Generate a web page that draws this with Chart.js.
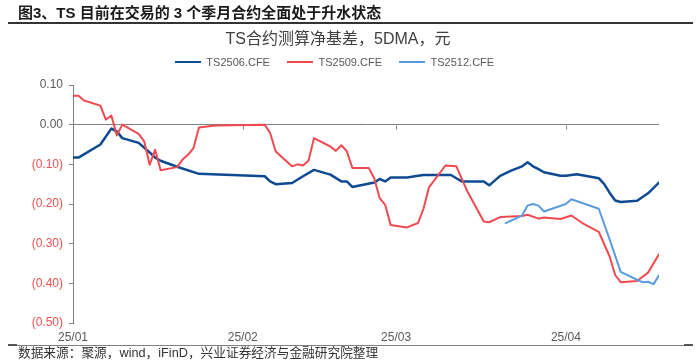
<!DOCTYPE html>
<html>
<head>
<meta charset="utf-8">
<script src="https://cdn.jsdelivr.net/npm/chart.js@4.4.1/dist/chart.umd.min.js"></script>
<style>
  body{margin:0;background:#fff;}
  #page{position:relative;width:700px;height:363px;overflow:hidden;background:#fff;
        font-family:"Liberation Sans","Noto Sans CJK SC",sans-serif;}
  #basisChart{position:absolute;left:0;top:0;}
  .fig-title{position:absolute;left:18px;top:4px;font-size:15px;line-height:17px;font-weight:bold;color:#1a1a1a;white-space:nowrap;}
  .rule-top{position:absolute;left:8px;top:22px;width:685px;height:2px;background:#333;}
  .chart-title{position:absolute;left:0;width:676px;top:29px;line-height:20px;font-size:16px;color:#404040;text-align:center;white-space:nowrap;}
  #legend{position:absolute;left:0;width:669px;top:55px;height:14px;display:flex;justify-content:center;gap:17px;font-size:11px;color:#595959;}
  .legend-item{display:flex;align-items:center;white-space:nowrap;}
  .legend-line{width:26px;height:2px;margin-right:5.5px;}
  .rule-bottom{position:absolute;left:8px;top:345px;width:685px;height:1px;background:#808080;}
  .rule-end{position:absolute;top:344px;width:9px;height:2px;background:#555;}
  .source{position:absolute;left:18px;top:346px;font-size:12.7px;line-height:15px;color:#333;white-space:nowrap;}
</style>
</head>
<body>
<div id="page">
  <canvas id="basisChart" width="700" height="363"></canvas>
  <div class="fig-title">图3、TS 目前在交易的 3 个季月合约全面处于升水状态</div>
  <div class="rule-top"></div>
  <div class="chart-title">TS合约测算净基差，5DMA，元</div>
  <div id="legend"></div>
  <div class="rule-bottom"></div>
  <div class="rule-end" style="left:8px"></div>
  <div class="rule-end" style="left:684px"></div>
  <div class="source">数据来源：聚源，wind，iFinD，兴业证券经济与金融研究院整理</div>
</div>
<script>
// colours
const colorTS2506 = "#0E4A91";
const colorTS2509 = "#EF4A50";
const colorTS2512 = "#5B9BE0";
const axisGray = "#808080";
const labelGray = "#595959";
const labelRed = "#EE5050";

// x values are calendar days counted from 2025-01-01
const monthStarts = [0, 31, 59, 90];
const monthLabels = ["25/01", "25/02", "25/03", "25/04"];
const xMax = 107;
const yMin = -0.5;
const yMax = 0.1;
const yStep = 0.1;

// TS2506.CFE
const ts2506Days = [0, 1, 5, 7, 8, 9, 12, 14, 15, 16, 19, 23, 35, 36, 37, 40, 42, 44, 47, 49, 50, 51, 55, 56, 57, 58,
    61, 63, 64, 69, 70, 71, 75, 76, 78, 80, 82, 83, 84, 85, 86, 89, 90, 92, 96, 97, 98, 99, 100, 103, 105, 107];
const ts2506Basis = [-0.083, -0.083, -0.050, -0.010, -0.017, -0.034, -0.046, -0.070, -0.083, -0.091, -0.106, -0.124,
    -0.130, -0.143, -0.150, -0.147, -0.130, -0.114, -0.126, -0.143, -0.143, -0.157, -0.146, -0.137, -0.143, -0.133,
    -0.133, -0.129, -0.127, -0.127, -0.135, -0.143, -0.143, -0.153, -0.129, -0.116, -0.105, -0.095, -0.105, -0.112,
    -0.120, -0.129, -0.129, -0.125, -0.135, -0.150, -0.172, -0.191, -0.195, -0.192, -0.173, -0.146];

// TS2509.CFE
const ts2509Days = [0, 1, 2, 5, 6, 7, 8, 9, 12, 13, 14, 15, 16, 19, 20, 21, 22, 23, 26, 35, 36, 37, 38, 40, 41, 42, 43,
    44, 47, 48, 49, 50, 51, 54, 55, 56, 57, 58, 61, 63, 64, 65, 68, 70, 72, 75, 76, 78, 82, 83, 85, 86, 89, 91, 93, 96,
    98, 99, 100, 103, 105, 107];
const ts2509Basis = [0.073, 0.073, 0.061, 0.048, 0.013, 0.023, -0.027, 0.000, -0.023, -0.042, -0.101, -0.063, -0.115,
    -0.107, -0.088, -0.076, -0.059, -0.007, -0.002, 0.000, -0.021, -0.067, -0.080, -0.105, -0.100, -0.103, -0.091,
    -0.034, -0.055, -0.066, -0.052, -0.067, -0.109, -0.109, -0.135, -0.185, -0.202, -0.253, -0.259, -0.248, -0.212,
    -0.158, -0.103, -0.105, -0.168, -0.244, -0.246, -0.233, -0.230, -0.227, -0.237, -0.234, -0.238, -0.229, -0.248,
    -0.270, -0.333, -0.379, -0.397, -0.394, -0.373, -0.327];

// TS2512.CFE
const ts2512Days = [79, 82, 83, 84, 85, 86, 90, 91, 96, 98, 100, 103, 104, 105, 106, 107];
const ts2512Basis = [-0.248, -0.229, -0.204, -0.200, -0.204, -0.219, -0.200, -0.188, -0.212, -0.290, -0.371, -0.391,
    -0.397, -0.396, -0.402, -0.380];

function toPoints(days, values) {
    return days.map(function (d, i) { return {x: d, y: values[i]}; });
}

function formatBasis(v) {
    if (v < -1e-9) return "(" + Math.abs(v).toFixed(2) + ")";
    return Math.abs(v).toFixed(2);
}

// small downward ticks on the zero line at each month start
const zeroLineTicks = {
    id: "zeroLineTicks",
    beforeDatasetsDraw: function (chart) {
        var ctx = chart.ctx;
        var xScale = chart.scales.x;
        var y0 = Math.round(chart.scales.y.getPixelForValue(0)) + 0.5;
        ctx.save();
        ctx.strokeStyle = axisGray;
        ctx.lineWidth = 1;
        monthStarts.forEach(function (d) {
            if (d === 0) return;
            var px = Math.round(xScale.getPixelForValue(d)) + 0.5;
            ctx.beginPath();
            ctx.moveTo(px, y0);
            ctx.lineTo(px, y0 + 4);
            ctx.stroke();
        });
        ctx.restore();
    }
};

var basisChart = new Chart(document.getElementById("basisChart"), {
    type: "line",
    data: {
        datasets: [{
            label: "TS2506.CFE",
            data: toPoints(ts2506Days, ts2506Basis),
            borderColor: colorTS2506,
            borderWidth: 2.5,
            order: 3
        }, {
            label: "TS2509.CFE",
            data: toPoints(ts2509Days, ts2509Basis),
            borderColor: colorTS2509,
            borderWidth: 2,
            order: 2
        }, {
            label: "TS2512.CFE",
            data: toPoints(ts2512Days, ts2512Basis),
            borderColor: colorTS2512,
            borderWidth: 2,
            order: 1
        }]
    },
    options: {
        responsive: false,
        animation: false,
        devicePixelRatio: 1,
        layout: {padding: {top: 85, right: 41, bottom: 18, left: 0}},
        elements: {
            point: {radius: 0},
            line: {tension: 0, borderCapStyle: "round", borderJoinStyle: "round"}
        },
        plugins: {
            legend: {display: false},
            title: {display: false},
            tooltip: {enabled: false}
        },
        scales: {
            x: {
                type: "linear",
                min: 0,
                max: xMax,
                afterBuildTicks: function (scale) {
                    scale.ticks = monthStarts.map(function (v) { return {value: v}; });
                },
                afterFit: function (scale) { scale.height = 22; },
                grid: {display: false, drawTicks: false},
                border: {display: false},
                ticks: {
                    autoSkip: false,
                    maxRotation: 0,
                    padding: 7,
                    color: labelGray,
                    font: {family: "Liberation Sans", size: 12},
                    callback: function (v) { return monthLabels[monthStarts.indexOf(v)]; }
                }
            },
            y: {
                min: yMin,
                max: yMax,
                afterFit: function (scale) { scale.width = 73; },
                border: {display: true, color: axisGray, width: 1},
                grid: {
                    drawTicks: true,
                    tickLength: 4,
                    tickColor: axisGray,
                    lineWidth: 1,
                    color: function (c) {
                        return Math.abs(c.tick.value) < 1e-9 ? axisGray : "rgba(0,0,0,0)";
                    }
                },
                ticks: {
                    stepSize: yStep,
                    padding: 6,
                    font: {family: "Liberation Sans", size: 12},
                    color: function (c) { return c.tick.value < -1e-9 ? labelRed : labelGray; },
                    callback: function (v) { return formatBasis(v); }
                }
            }
        }
    },
    plugins: [zeroLineTicks]
});

// html legend built from the datasets
var legendBox = document.getElementById("legend");
basisChart.data.datasets.forEach(function (ds) {
    var item = document.createElement("div");
    item.className = "legend-item";
    var line = document.createElement("span");
    line.className = "legend-line";
    line.style.background = ds.borderColor;
    line.style.height = ds.borderWidth + "px";
    var text = document.createElement("span");
    text.textContent = ds.label;
    item.appendChild(line);
    item.appendChild(text);
    legendBox.appendChild(item);
});
</script>
</body>
</html>
